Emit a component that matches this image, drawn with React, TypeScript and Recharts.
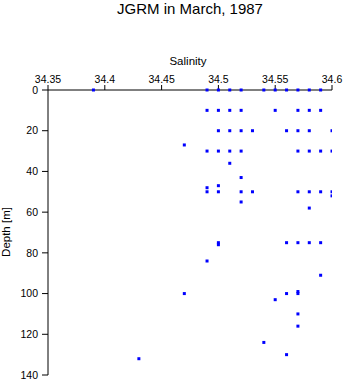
import { Scatter, ScatterChart, XAxis, YAxis } from "recharts";

// Salinity / depth pairs, grouped by depth row.
const salinity = [
  34.39, 34.49, 34.5, 34.51, 34.52, 34.54, 34.55, 34.56, 34.57, 34.58, 34.59,
  34.49, 34.5, 34.51, 34.52, 34.55, 34.57, 34.58, 34.59,
  34.5, 34.51, 34.52, 34.53, 34.56, 34.57, 34.58, 34.6,
  34.47,
  34.49, 34.5, 34.51, 34.52, 34.57, 34.58, 34.59, 34.6,
  34.51, 34.52, 34.5, 34.49,
  34.49, 34.5, 34.52, 34.53, 34.57, 34.58, 34.59, 34.6,
  34.6, 34.52, 34.58,
  34.5, 34.56, 34.57, 34.58, 34.59, 34.5,
  34.49, 34.59, 34.57,
  34.47, 34.56, 34.57,
  34.55, 34.57, 34.57, 34.54, 34.56, 34.43,
];
const depth = [
  0, 0, 0, 0, 0, 0, 0, 0, 0, 0, 0,
  10, 10, 10, 10, 10, 10, 10, 10,
  20, 20, 20, 20, 20, 20, 20, 20,
  27,
  30, 30, 30, 30, 30, 30, 30, 30,
  36, 43, 47, 48,
  50, 50, 50, 50, 50, 50, 50, 50,
  52, 55, 58,
  75, 75, 75, 75, 75, 76,
  84, 91, 99,
  100, 100, 100,
  103, 110, 116, 124, 130, 132,
];

const salinityTicks = [34.35, 34.4, 34.45, 34.5, 34.55, 34.6];
const depthTicks = [0, 20, 40, 60, 80, 100, 120, 140];

const data = salinity.map((s, i) => ({ s, d: depth[i] }));

const Dot = (props: { cx?: number; cy?: number }) => {
  const { cx = 0, cy = 0 } = props;
  return <rect x={cx - 1.5} y={cy - 1.5} width={3} height={3} fill="#0000ff" />;
};

const tickStyle = { fontSize: 10.5, fill: "#000" };

export default function App() {
  return (
    <div style={{ position: "absolute", left: 0, top: 0 }}>
      <ScatterChart
        width={346}
        height={384}
        margin={{ top: 0, right: 14, bottom: 9, left: 0 }}
        style={{ fontFamily: "'Liberation Sans', Arial, sans-serif" }}
      >
        <XAxis
          dataKey="s"
          type="number"
          orientation="top"
          domain={[34.35, 34.6]}
          ticks={salinityTicks}
          allowDataOverflow
          height={90}
          tickSize={5}
          tickMargin={2}
          tick={tickStyle}
          stroke="#000"
          tickFormatter={(v: number) => String(v)}
        />
        <YAxis
          dataKey="d"
          type="number"
          reversed
          domain={[0, 140]}
          ticks={depthTicks}
          width={48}
          tickSize={6}
          tickMargin={4}
          tick={tickStyle}
          stroke="#000"
        />
        <Scatter data={data} shape={Dot} isAnimationActive={false} />
        <text x={190} y={14} textAnchor="middle" fontSize={15} fill="#000">
          JGRM in March, 1987
        </text>
        <text x={188} y={65} textAnchor="middle" fontSize={11.5} fill="#000">
          Salinity
        </text>
        <text
          x={10}
          y={232}
          textAnchor="middle"
          fontSize={11.5}
          fill="#000"
          transform="rotate(-90 10 232)"
        >
          Depth [m]
        </text>
      </ScatterChart>
    </div>
  );
}
